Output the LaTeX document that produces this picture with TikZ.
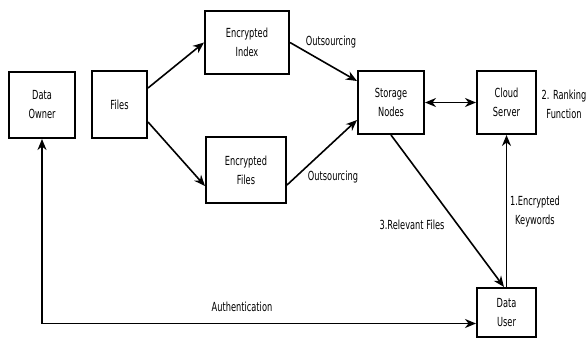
\documentclass[tikz,border=0pt]{standalone}
\usepackage{fontspec}
\setmainfont[FakeStretch=0.66]{DejaVu Sans}
\usetikzlibrary{arrows.meta}
\begin{document}
\begin{tikzpicture}[x=1bp,y=-1bp,
  box/.style={draw,line width=2bp,align=center,inner sep=0pt,font=\fontsize{12.5bp}{19bp}\selectfont},
  lbl/.style={align=center,inner sep=0pt,font=\fontsize{12.5bp}{19bp}\selectfont},
  arr/.style={line width=1.6bp,-{Stealth[length=11bp,width=9bp,inset=3.5bp]}},
  darr/.style={line width=1.6bp,{Stealth[length=11bp,width=9bp,inset=3.5bp]}-{Stealth[length=11bp,width=9bp,inset=3.5bp]}}]
\useasboundingbox (0,0) rectangle (587,339);
\node[box,minimum width=66bp,minimum height=66bp] (owner) at (42,105) {Data\\Owner};
\node[box,minimum width=55bp,minimum height=67bp] (files) at (119.5,104.5) {Files};
\node[box,minimum width=84bp,minimum height=63bp] (eindex) at (247,42.5) {Encrypted\\Index};
\node[box,minimum width=80bp,minimum height=66bp] (efiles) at (246,170) {Encrypted\\Files};
\node[box,minimum width=66bp,minimum height=63bp] (storage) at (391,102.5) {Storage\\Nodes};
\node[box,minimum width=59bp,minimum height=63bp] (cloud) at (506.5,102.5) {Cloud\\Server};
\node[box,minimum width=59bp,minimum height=49bp] (user) at (506.5,312.5) {Data\\User};
\draw[arr] ([yshift=16.5bp]files.east) -- (eindex.west);
\draw[arr] ([yshift=-17.5bp]files.east) -- ([yshift=-16bp]efiles.west);
\draw[arr] (eindex.east) -- ([yshift=21.5bp]storage.west);
\draw[arr] ([yshift=-15bp]efiles.east) -- ([yshift=-17.5bp]storage.west);
\draw[darr] (storage.east) -- (cloud.west);
\draw[arr] (storage.south) -- ([xshift=-2.5bp]user.north);
\draw[arr] (user.north) -- (cloud.south);
\draw[darr] (owner.south) |- ([yshift=-11bp]user.west);
\node[lbl] (l1) at (331,42) {Outsourcing};
\node[lbl] (l2) at (333,177) {Outsourcing};
\node[lbl] (l3) at (564,104) {2. Ranking\\Function};
\node[lbl] (l4) at (412,225) {3.Relevant Files};
\node[lbl] (l5) at (535,212) {1.Encrypted\\Keywords};
\node[lbl] (l6) at (242,307) {Authentication};
\end{tikzpicture}
\end{document}
